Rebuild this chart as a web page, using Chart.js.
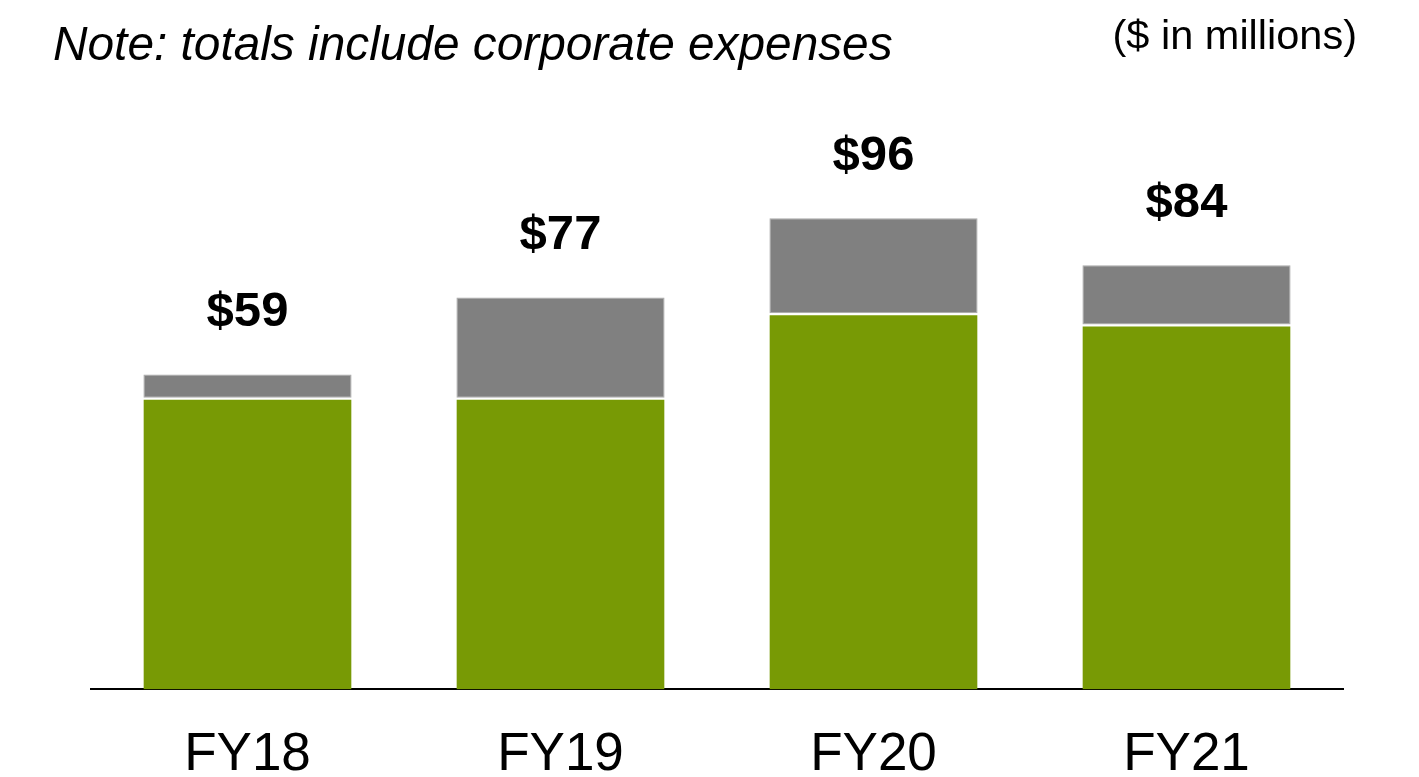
<!DOCTYPE html>
<html>
<head>
<meta charset="utf-8">
<script src="https://cdn.jsdelivr.net/npm/chart.js@4"></script>
<style>
    body { margin: 0; background: #ffffff; overflow: hidden; }
    #wrap { position: relative; width: 1419px; height: 777px; overflow: hidden; }
    #chart { position: absolute; left: 0; top: 0; }
    .note {
        position: absolute; left: 53px; top: 20px;
        font: italic 47.8px 'Liberation Sans', Arial, sans-serif; line-height: 1;
        color: #000; white-space: nowrap;
    }
    .unit {
        position: absolute; right: 62px; top: 14px;
        font: 41.5px 'Liberation Sans', Arial, sans-serif; line-height: 1;
        color: #000; white-space: nowrap;
    }
</style>
</head>
<body>
<div id="wrap">
    <canvas id="chart" width="1419" height="821"></canvas>
    <div class="note">Note: totals include corporate expenses</div>
    <div class="unit">($ in millions)</div>
</div>
<script>
// 데이터
const years = ['FY18', 'FY19', 'FY20', 'FY21'];
const segmentValues = [59.5, 59.5, 76.7, 74.4];   // 초록 (사업부)
const otherValues = [4.7, 20.4, 19.4, 12.1];      // 회색
const totalLabels = ['$59', '$77', '$96', '$84']; // 합계 (corporate 포함)

const GREEN = '#789A05';
const GRAY = '#808080';

// 막대 위 합계 표시
const totalsPlugin = {
    id: 'totals',
    afterDatasetsDraw(chart) {
        const ctx = chart.ctx;
        const meta = chart.getDatasetMeta(1);
        ctx.save();
        ctx.font = 'bold 49px "Liberation Sans", Arial, sans-serif';
        ctx.fillStyle = '#000';
        ctx.textAlign = 'center';
        ctx.textBaseline = 'middle';
        meta.data.forEach((bar, i) => {
            ctx.fillText(totalLabels[i], bar.x, bar.y - 62);
        });
        ctx.restore();
    }
};

new Chart(document.getElementById('chart'), {
    type: 'bar',
    data: {
        labels: years,
        datasets: [
            {
                data: segmentValues,
                backgroundColor: GREEN,
                borderColor: '#ffffff',
                borderWidth: { top: 2, left: 0, right: 0, bottom: 0 },
                borderSkipped: false
            },
            {
                data: otherValues,
                backgroundColor: GRAY,
                borderColor: '#a8a8a8',
                borderWidth: 1,
                borderSkipped: false
            }
        ]
    },
    options: {
        responsive: false,
        animation: false,
        layout: { padding: { left: 91, right: 76, top: 101, bottom: 0 } },
        datasets: { bar: { categoryPercentage: 1, barPercentage: 0.665 } },
        plugins: {
            legend: { display: false },
            tooltip: { enabled: false }
        },
        scales: {
            x: {
                stacked: true,
                grid: { display: false, drawTicks: false },
                border: { display: true, color: '#000', width: 2 },
                ticks: {
                    color: '#000',
                    padding: 34,
                    font: { family: '"Liberation Sans", Arial, sans-serif', size: 53 }
                }
            },
            y: {
                stacked: true,
                display: false,
                min: 0,
                max: 120
            }
        }
    },
    plugins: [totalsPlugin]
});
</script>
</body>
</html>
